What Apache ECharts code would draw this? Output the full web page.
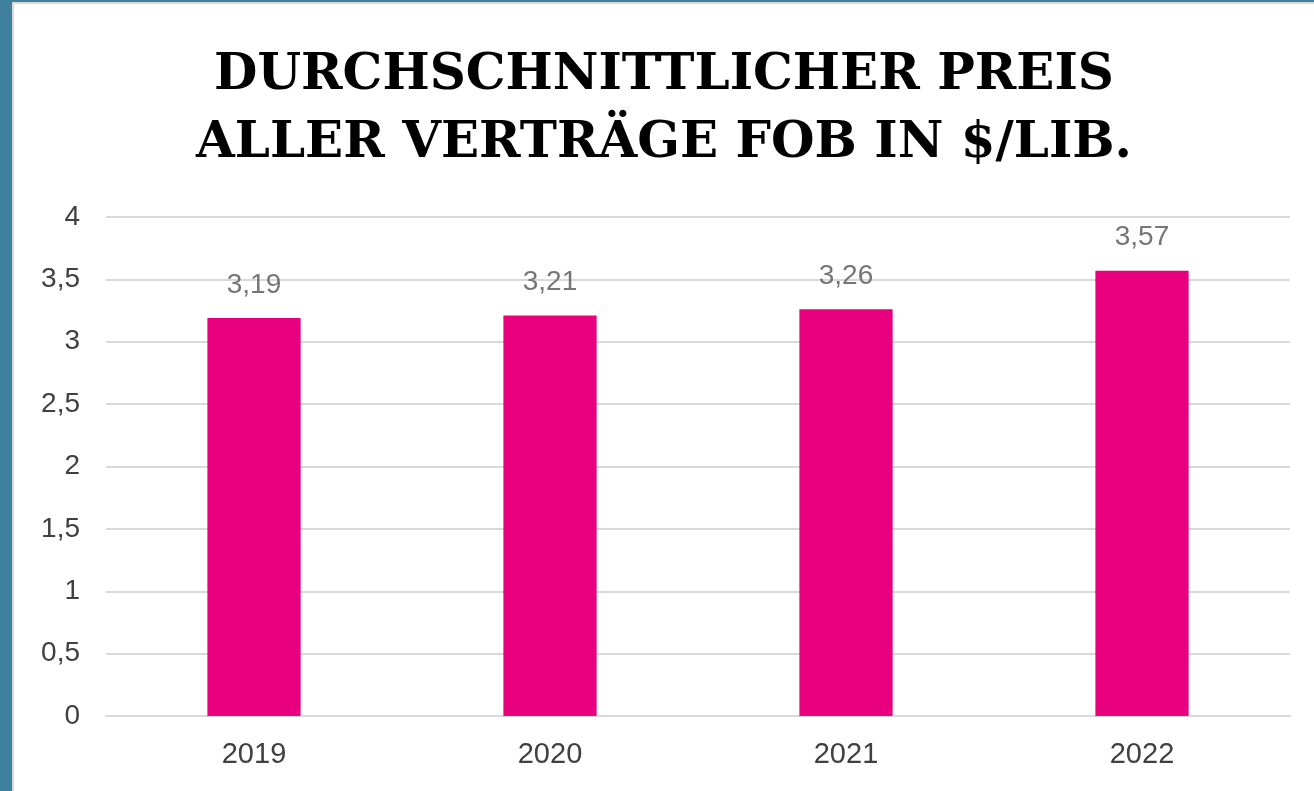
<!DOCTYPE html>
<html><head><meta charset="utf-8">
<script src="https://cdn.jsdelivr.net/npm/echarts@6/dist/echarts.min.js"></script>
<style>
html,body{margin:0;padding:0;width:1314px;height:791px;background:#40809f;overflow:hidden;}
#frame{position:absolute;left:12px;top:2px;width:1302px;height:789px;background:#fff;border-left:2px solid #d9d9d9;border-top:2px solid #d9d9d9;box-sizing:border-box;}
#c{position:absolute;left:0;top:0;width:1300px;height:787px;}
</style></head>
<body><div id="frame"><div id="c"></div></div>
<script>
const titleText = 'DURCHSCHNITTLICHER PREIS\nALLER VERTRÄGE FOB IN $/LIB.';
const categories = ['2019','2020','2021','2022'];
const values = [3.19, 3.21, 3.26, 3.57];
const yMin = 0, yMax = 4, yStep = 0.5;
const fmt = v => String(v).replace('.', ',');
const chart = echarts.init(document.getElementById('c'));
chart.setOption({
  animation:false,
  title:{text:titleText,left:'center',top:33,textStyle:{fontFamily:'DejaVu Serif',fontWeight:'bold',fontSize:50,color:'#000',lineHeight:68}},
  grid:{left:92,right:24,top:213,bottom:75,containLabel:false},
  xAxis:{type:'category',data:categories,axisLine:{show:true,lineStyle:{color:'#d9d9d9',width:2}},axisTick:{show:false},
    axisLabel:{color:'#404040',fontFamily:'Liberation Sans',fontSize:29,margin:24}},
  yAxis:{type:'value',min:yMin,max:yMax,interval:yStep,axisLine:{show:false},axisTick:{show:false},
    splitLine:{lineStyle:{color:'#d9d9d9',width:2}},
    axisLabel:{color:'#404040',fontFamily:'Liberation Sans',fontSize:28,margin:26,formatter:fmt}},
  series:[{type:'bar',data:values,barWidth:'31.5%',itemStyle:{color:'#e8007e'},
    label:{show:true,position:'top',distance:19,color:'#767676',fontFamily:'Liberation Sans',fontSize:28,formatter:p=>fmt(p.value)}}]
});
</script></body></html>
